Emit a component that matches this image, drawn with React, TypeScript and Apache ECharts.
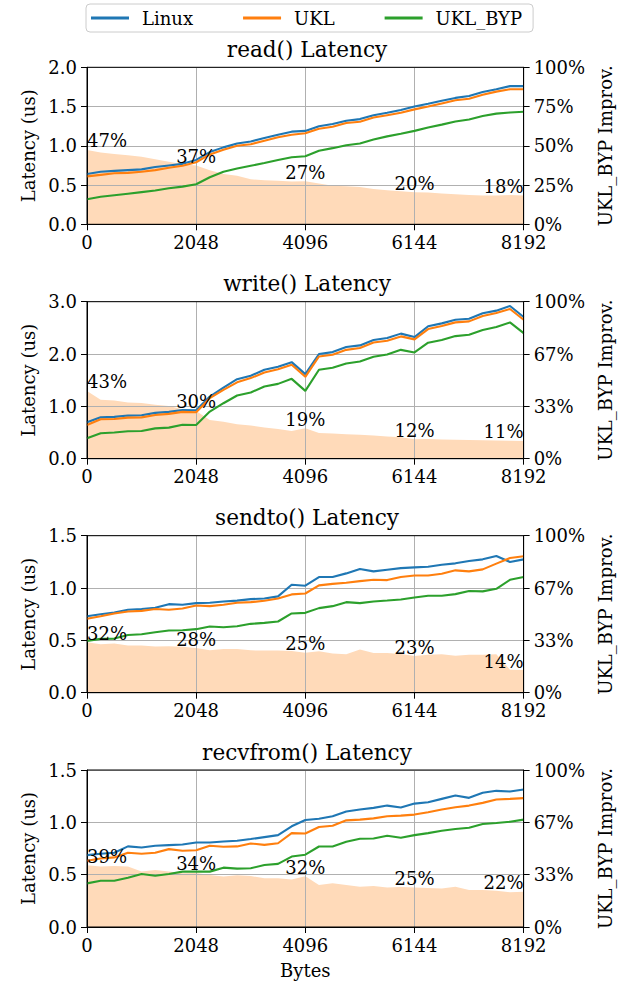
import React, { useEffect, useRef } from "react";
import * as echarts from "echarts";

const bytes = [0, 256, 512, 768, 1024, 1280, 1536, 1792, 2048, 2304, 2560, 2816, 3072, 3328, 3584, 3840, 4096, 4352, 4608, 4864, 5120, 5376, 5632, 5888, 6144, 6400, 6656, 6912, 7168, 7424, 7680, 7936, 8192];
const xTicks = [0, 2048, 4096, 6144, 8192];
const labelIdx = [0, 8, 16, 24, 32];

const readLinux = [0.64, 0.67, 0.68, 0.69, 0.70, 0.73, 0.75, 0.77, 0.82, 0.92, 0.98, 1.03, 1.055, 1.10, 1.14, 1.18, 1.19, 1.25, 1.277, 1.32, 1.34, 1.39, 1.42, 1.455, 1.50, 1.536, 1.574, 1.61, 1.634, 1.685, 1.72, 1.76, 1.76];
const readUkl = [0.61, 0.63, 0.65, 0.655, 0.67, 0.69, 0.72, 0.745, 0.79, 0.89, 0.95, 1.0, 1.02, 1.065, 1.11, 1.14, 1.16, 1.217, 1.243, 1.29, 1.306, 1.36, 1.39, 1.42, 1.464, 1.50, 1.54, 1.58, 1.60, 1.65, 1.69, 1.72, 1.72];
const readByp = [0.32, 0.35, 0.37, 0.39, 0.41, 0.43, 0.46, 0.48, 0.51, 0.60, 0.67, 0.71, 0.745, 0.78, 0.82, 0.855, 0.866, 0.936, 0.97, 1.008, 1.03, 1.08, 1.12, 1.153, 1.19, 1.234, 1.27, 1.31, 1.336, 1.38, 1.41, 1.425, 1.434];
const readImpr = [47.4, 45.7, 44.7, 44, 43, 41.5, 39.8, 38.3, 37.4, 34.5, 32, 30.9, 28.7, 28, 27.7, 27.2, 27.4, 26, 24.5, 24.3, 23.8, 22.5, 21.7, 21, 20.4, 20.2, 19.6, 19.1, 18.7, 18.3, 18.3, 18.6, 18.4];

const writeLinux = [0.696, 0.79, 0.80, 0.824, 0.83, 0.875, 0.894, 0.93, 0.926, 1.188, 1.36, 1.52, 1.584, 1.70, 1.756, 1.845, 1.616, 2.0, 2.037, 2.133, 2.165, 2.267, 2.305, 2.39, 2.324, 2.53, 2.586, 2.656, 2.675, 2.778, 2.829, 2.918, 2.707];
const writeUkl = [0.645, 0.753, 0.76, 0.785, 0.79, 0.836, 0.856, 0.894, 0.888, 1.156, 1.315, 1.46, 1.54, 1.647, 1.71, 1.794, 1.565, 1.954, 1.986, 2.08, 2.114, 2.22, 2.254, 2.337, 2.28, 2.477, 2.535, 2.605, 2.624, 2.727, 2.784, 2.86, 2.656];
const writeByp = [0.39, 0.485, 0.50, 0.524, 0.53, 0.58, 0.594, 0.65, 0.645, 0.90, 1.06, 1.207, 1.264, 1.38, 1.43, 1.526, 1.296, 1.70, 1.737, 1.82, 1.858, 1.948, 1.99, 2.08, 2.03, 2.216, 2.267, 2.343, 2.37, 2.458, 2.516, 2.605, 2.40];
const writeImpr = [43.2, 37.5, 37, 35.8, 35.5, 34.3, 33.6, 31.5, 30.4, 24.7, 23.6, 21.9, 21.1, 19.8, 18.9, 17.7, 19.4, 16.3, 16, 15.6, 15.2, 14.7, 14.2, 13.6, 12.4, 12.5, 12.2, 12, 11.9, 11.8, 11.6, 11.4, 11.3];

const sendLinux = [0.731, 0.75, 0.766, 0.792, 0.80, 0.811, 0.846, 0.84, 0.856, 0.86, 0.872, 0.88, 0.894, 0.90, 0.92, 1.031, 1.022, 1.105, 1.105, 1.14, 1.182, 1.159, 1.175, 1.19, 1.197, 1.204, 1.223, 1.236, 1.258, 1.274, 1.306, 1.249, 1.274];
const sendUkl = [0.706, 0.731, 0.757, 0.776, 0.782, 0.80, 0.792, 0.805, 0.833, 0.827, 0.84, 0.859, 0.865, 0.878, 0.90, 0.939, 0.948, 1.025, 1.04, 1.05, 1.066, 1.079, 1.076, 1.105, 1.12, 1.12, 1.137, 1.169, 1.159, 1.178, 1.233, 1.287, 1.303];
const sendByp = [0.495, 0.514, 0.517, 0.552, 0.559, 0.578, 0.594, 0.597, 0.607, 0.632, 0.626, 0.635, 0.658, 0.667, 0.68, 0.757, 0.763, 0.808, 0.827, 0.865, 0.856, 0.872, 0.881, 0.891, 0.91, 0.926, 0.926, 0.942, 0.971, 0.968, 0.993, 1.079, 1.105];
const sendImpr = [32.1, 30.9, 31.3, 30, 30, 29.4, 29.6, 29.2, 28.4, 27, 27.9, 27.9, 27, 26.8, 26.8, 26.6, 25.4, 26.4, 24.9, 24.5, 27.5, 25.3, 25.3, 24.7, 23.3, 24.1, 24.5, 23.6, 24.1, 24.1, 24.5, 14.6, 14.4];

const recvLinux = [0.687, 0.70, 0.71, 0.77, 0.76, 0.776, 0.782, 0.788, 0.808, 0.808, 0.817, 0.824, 0.84, 0.859, 0.878, 0.962, 1.022, 1.035, 1.058, 1.103, 1.122, 1.138, 1.16, 1.141, 1.179, 1.192, 1.224, 1.256, 1.234, 1.282, 1.301, 1.295, 1.314];
const recvUkl = [0.633, 0.655, 0.665, 0.71, 0.70, 0.71, 0.744, 0.728, 0.734, 0.776, 0.766, 0.77, 0.798, 0.785, 0.80, 0.897, 0.894, 0.955, 0.968, 1.019, 1.026, 1.038, 1.058, 1.064, 1.074, 1.096, 1.122, 1.144, 1.16, 1.186, 1.218, 1.224, 1.231];
const recvByp = [0.417, 0.442, 0.442, 0.47, 0.506, 0.49, 0.506, 0.529, 0.529, 0.529, 0.567, 0.558, 0.561, 0.593, 0.603, 0.673, 0.691, 0.769, 0.769, 0.814, 0.843, 0.846, 0.872, 0.853, 0.878, 0.897, 0.92, 0.936, 0.949, 0.984, 0.994, 1.006, 1.026];
const recvImpr = [39.4, 38.5, 38.9, 38.5, 35.3, 36.3, 35.3, 34.2, 34.4, 33.1, 32.1, 32.9, 32.5, 31, 31, 30.3, 32.4, 26.7, 27.8, 26.7, 25.6, 26.1, 25.2, 25.4, 25.2, 24.8, 24.6, 25.6, 23.5, 23.5, 23.1, 22.2, 22.4];

const titles = ["read() Latency", "write() Latency", "sendto() Latency", "recvfrom() Latency"];
const yMaxes = [2.0, 3.0, 1.5, 1.5];
const ySteps = [0.5, 1.0, 0.5, 0.5];
const seriesNames = ["Linux", "UKL", "UKL_BYP"];
const panelData = [
  [readLinux, readUkl, readByp, readImpr],
  [writeLinux, writeUkl, writeByp, writeImpr],
  [sendLinux, sendUkl, sendByp, sendImpr],
  [recvLinux, recvUkl, recvByp, recvImpr],
];

const COLORS = ["#1f77b4", "#ff7f0e", "#2ca02c"];
const AREA = "#ffdab9";
const FONT = "DejaVu Serif";
const FS = 18;
const GRID_LEFT = 87;
const GRID_W = 440;
const GRID_H = 157;
const GRID_TOPS = [67.3, 301.7, 535.7, 770];

function buildOption() {
  const grid: any[] = [];
  const xAxis: any[] = [];
  const yAxis: any[] = [];
  const series: any[] = [];
  const title: any[] = [];
  const txt = { fontFamily: FONT, fontSize: FS, color: "#000", fontWeight: "normal" };

  panelData.forEach((pd, k) => {
    const top = GRID_TOPS[k];
    grid.push({ left: GRID_LEFT, top, width: GRID_W, height: GRID_H, show: true, borderColor: "#000", borderWidth: 1, backgroundColor: "transparent", z: 5 });
    title.push({
      text: titles[k], left: GRID_LEFT + GRID_W / 2, top: top - 29, textAlign: "center",
      textStyle: { fontFamily: FONT, fontSize: 21.6, fontWeight: "normal", color: "#000" },
      padding: 0,
    });
    xAxis.push({
      type: "value", gridIndex: k, min: xTicks[0], max: xTicks[xTicks.length - 1], interval: xTicks[1] - xTicks[0],
      axisLine: { show: true, onZero: false, lineStyle: { color: "#000", width: 1 } },
      axisTick: { show: true, length: 6, lineStyle: { color: "#000", width: 1 } },
      axisLabel: { ...txt, margin: 9, showMinLabel: true, showMaxLabel: true, hideOverlap: false, formatter: (v: number) => String(v) },
      splitLine: { show: true, lineStyle: { color: "#b0b0b0", width: 1 } },
      name: k === panelData.length - 1 ? "Bytes" : "",
      nameLocation: "middle", nameGap: 34, nameTextStyle: txt,
    });
    const n = yMaxes[k] / ySteps[k];
    yAxis.push({
      type: "value", gridIndex: k, position: "left", min: 0, max: yMaxes[k], interval: ySteps[k],
      axisLine: { show: true, lineStyle: { color: "#000", width: 1 } },
      axisTick: { show: true, length: 6, lineStyle: { color: "#000", width: 1 } },
      axisLabel: { ...txt, margin: 10, formatter: (v: number) => v.toFixed(1) },
      splitLine: { show: true, lineStyle: { color: "#b0b0b0", width: 1 } },
      name: "Latency (us)", nameLocation: "middle", nameGap: 49, nameRotate: 90, nameTextStyle: txt,
    });
    yAxis.push({
      type: "value", gridIndex: k, position: "right", min: 0, max: 100, interval: 100 / n,
      axisLine: { show: true, lineStyle: { color: "#000", width: 1 } },
      axisTick: { show: true, length: 6, lineStyle: { color: "#000", width: 1 } },
      axisLabel: { ...txt, margin: 10, formatter: (v: number) => Math.round(v) + "%" },
      splitLine: { show: false },
      name: "UKL_BYP Improv.", nameLocation: "middle", nameGap: 69, nameRotate: 90, nameTextStyle: txt,
    });
    const impr = pd[3];
    series.push({
      type: "line", xAxisIndex: k, yAxisIndex: 2 * k + 1, silent: true,
      data: bytes.map((b, i) => [b, impr[i]]),
      symbol: "none", lineStyle: { width: 0 }, areaStyle: { color: AREA, opacity: 1 }, z: -1,
    });
    for (let s = 0; s < 3; s++) {
      series.push({
        type: "line", name: seriesNames[s], xAxisIndex: k, yAxisIndex: 2 * k,
        data: bytes.map((b, i) => [b, pd[s][i]]),
        symbol: "none", lineStyle: { color: COLORS[s], width: 2.1 }, itemStyle: { color: COLORS[s] }, z: 3,
      });
    }
    series.push({
      type: "scatter", xAxisIndex: k, yAxisIndex: 2 * k + 1, silent: true, symbolSize: 0.01,
      itemStyle: { color: "#000", opacity: 1 }, z: 6,
      data: labelIdx.map((i, j) => ({
        value: [bytes[i], impr[i]],
        label: { align: j === 0 ? "left" : j === labelIdx.length - 1 ? "right" : "center" },
      })),
      label: {
        show: true, position: "top", distance: 0, ...txt, opacity: 1,
        textBorderWidth: 0,
        formatter: (p: any) => Math.round(p.value[1]) + "%",
      },
    });
  });

  return {
    animation: false,
    backgroundColor: "#fff",
    textStyle: { fontFamily: FONT, fontSize: FS, color: "#000" },
    title,
    legend: {
      data: seriesNames, left: 86, top: 4, orient: "horizontal",
      icon: "rect", itemWidth: 38, itemHeight: 3, itemGap: 50,
      padding: [5, 11, 5, 5], borderColor: "#cccccc", borderWidth: 1, borderRadius: 4,
      textStyle: { ...txt, padding: [0, 0, 0, 8] },
    },
    grid, xAxis, yAxis, series,
  };
}

export default function App() {
  const ref = useRef<HTMLDivElement>(null);
  useEffect(() => {
    if (!ref.current) return;
    const chart = echarts.init(ref.current, undefined, { renderer: "svg" });
    chart.setOption(buildOption() as any);
    return () => chart.dispose();
  }, []);
  return <div ref={ref} style={{ position: "fixed", left: 0, top: 0, width: 622, height: 982, background: "#fff" }} />;
}
